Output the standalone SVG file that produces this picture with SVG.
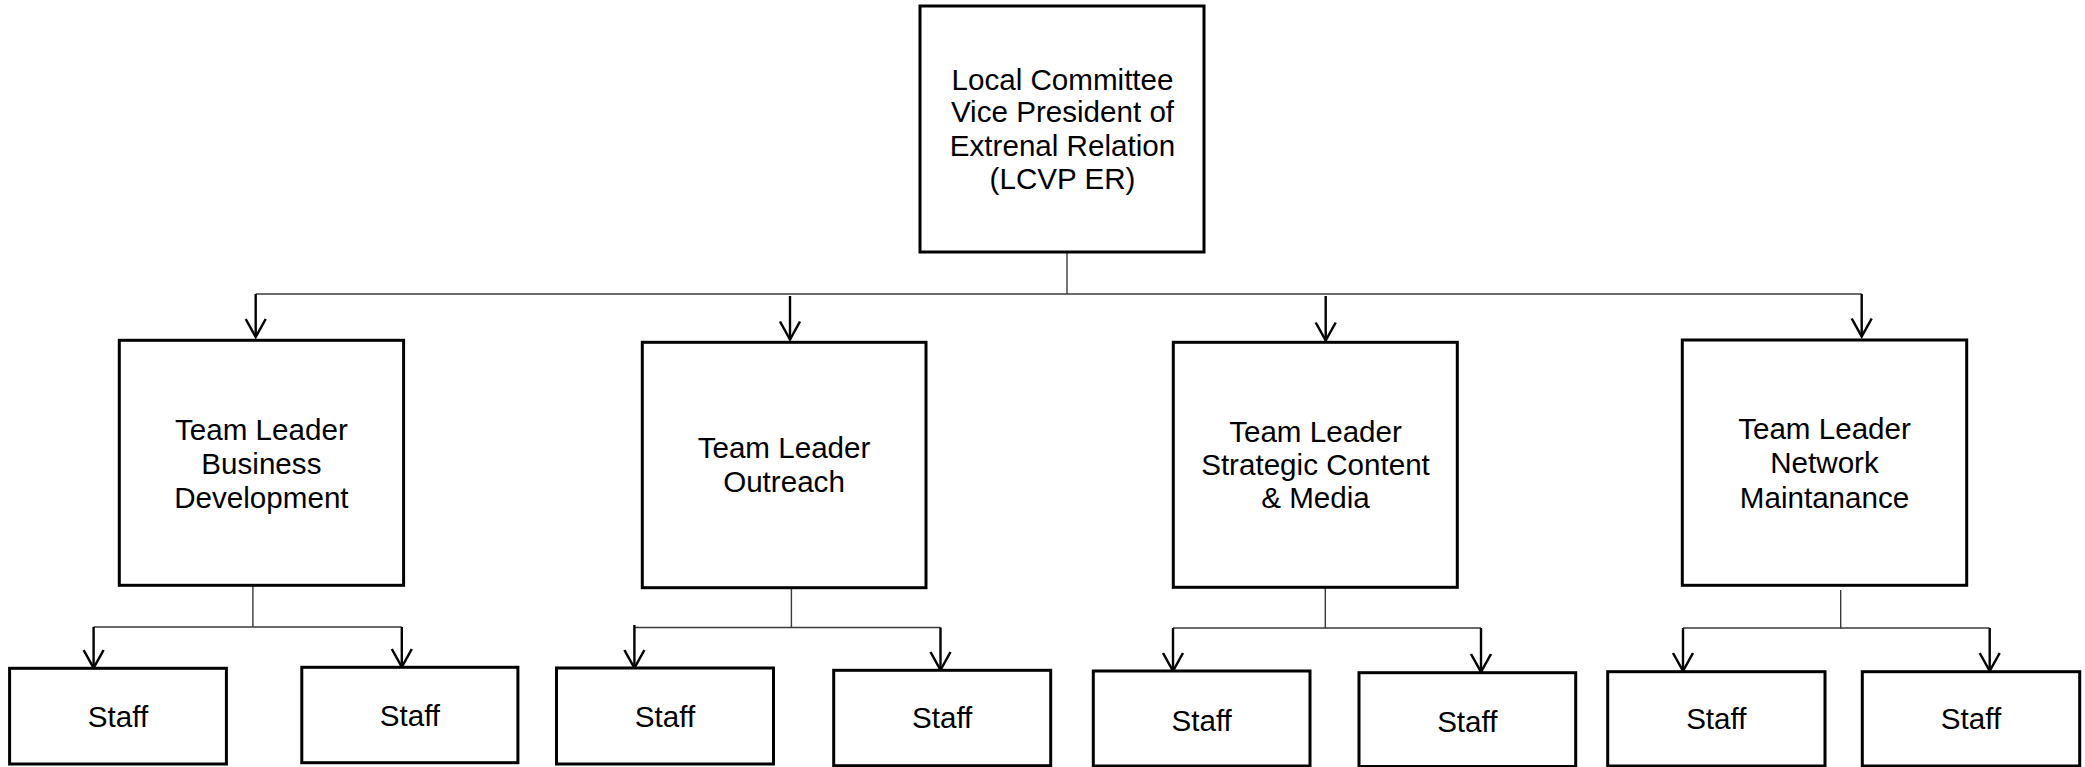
<svg xmlns="http://www.w3.org/2000/svg" width="2085" height="767" viewBox="0 0 2085 767">
<style>
.box{fill:#fff;stroke:#000;stroke-width:3}
.lbl{font-family:"Liberation Sans",Arial,sans-serif;font-size:29.6px;fill:#000;text-anchor:middle}
.ln{stroke:#3a3a3a;stroke-width:1.4;fill:none}
.ar{stroke:#000;stroke-width:2.4;fill:none;marker-end:url(#head)}
</style>
<defs>
<marker id="head" markerUnits="userSpaceOnUse" markerWidth="24" markerHeight="26" viewBox="-20 -12 24 24" refX="0" refY="0" orient="auto" overflow="visible">
<path d="M-18,-10 L0,0 L-18,10" fill="none" stroke="#000" stroke-width="2.5"/>
</marker>
</defs>
<rect width="2085" height="767" fill="#fff"/>
<g id="connectors">
<line class="ln" x1="1067" y1="250" x2="1067" y2="294"/>
<line class="ln" x1="255.7" y1="294" x2="1861.7" y2="294"/>
<line class="ar" x1="255.7" y1="294" x2="255.7" y2="337"/>
<line class="ar" x1="790" y1="296" x2="790" y2="339.5"/>
<line class="ar" x1="1325.7" y1="296" x2="1325.7" y2="340.5"/>
<line class="ar" x1="1861.7" y1="294" x2="1861.7" y2="336.5"/>
<line class="ln" x1="252.9" y1="585" x2="252.9" y2="627"/>
<line class="ln" x1="93.6" y1="627" x2="401.8" y2="627"/>
<line class="ar" x1="93.6" y1="627" x2="93.6" y2="668"/>
<line class="ar" x1="401.8" y1="627" x2="401.8" y2="667"/>
<line class="ln" x1="791.4" y1="588" x2="791.4" y2="628"/>
<line class="ln" x1="634.4" y1="627.5" x2="940.5" y2="627.5"/>
<line class="ar" x1="634.4" y1="625" x2="634.4" y2="668"/>
<line class="ar" x1="940.5" y1="627.5" x2="940.5" y2="670"/>
<line class="ln" x1="1325.3" y1="587" x2="1325.3" y2="628.5"/>
<line class="ln" x1="1173" y1="628" x2="1481" y2="628"/>
<line class="ar" x1="1173" y1="628" x2="1173" y2="671"/>
<line class="ar" x1="1481" y1="628" x2="1481" y2="672"/>
<line class="ln" x1="1840.7" y1="590" x2="1840.7" y2="628.5"/>
<line class="ln" x1="1683" y1="628" x2="1989.7" y2="628"/>
<line class="ar" x1="1683" y1="628" x2="1683" y2="671"/>
<line class="ar" x1="1989.7" y1="628" x2="1989.7" y2="671"/>
</g>
<g id="lcvp">
<rect class="box" x="920" y="6" width="284" height="246"/>
<text class="lbl" x="1062.5" y="89.5">Local Committee</text>
<text class="lbl" x="1062.5" y="122.3">Vice President of</text>
<text class="lbl" x="1062.5" y="155.6">Extrenal Relation</text>
<text class="lbl" x="1062.5" y="188.5">(LCVP ER)</text>
</g>
<g id="tl-bd">
<rect class="box" x="119.3" y="340.3" width="284.3" height="245"/>
<text class="lbl" x="261.4" y="440">Team Leader</text>
<text class="lbl" x="261.4" y="474.3">Business</text>
<text class="lbl" x="261.4" y="508.3">Development</text>
</g>
<g id="tl-outreach">
<rect class="box" x="642.3" y="342.3" width="283.7" height="245.4"/>
<text class="lbl" x="784" y="458.3">Team Leader</text>
<text class="lbl" x="784" y="492.3">Outreach</text>
</g>
<g id="tl-scm">
<rect class="box" x="1173.3" y="342.3" width="284" height="245"/>
<text class="lbl" x="1315.5" y="441.7">Team Leader</text>
<text class="lbl" x="1315.5" y="474.8">Strategic Content</text>
<text class="lbl" x="1315.5" y="508.3">&amp; Media</text>
</g>
<g id="tl-nm">
<rect class="box" x="1682.3" y="340" width="284.4" height="245.3"/>
<text class="lbl" x="1824.5" y="439.3">Team Leader</text>
<text class="lbl" x="1824.5" y="473.3">Network</text>
<text class="lbl" x="1824.5" y="507.7">Maintanance</text>
</g>
<g id="staff1"><rect class="box" x="9.6" y="668.3" width="216.8" height="95.7"/><text class="lbl" x="118" y="726.7">Staff</text></g>
<g id="staff2"><rect class="box" x="301.8" y="667.3" width="216.1" height="95.4"/><text class="lbl" x="409.9" y="726">Staff</text></g>
<g id="staff3"><rect class="box" x="556.5" y="668" width="217" height="96"/><text class="lbl" x="665" y="726.7">Staff</text></g>
<g id="staff4"><rect class="box" x="833.7" y="670.3" width="217" height="95.4"/><text class="lbl" x="942.2" y="728.3">Staff</text></g>
<g id="staff5"><rect class="box" x="1093.3" y="671" width="216.7" height="95"/><text class="lbl" x="1201.7" y="730.7">Staff</text></g>
<g id="staff6"><rect class="box" x="1359" y="672.7" width="216.7" height="93.8"/><text class="lbl" x="1467.3" y="732.3">Staff</text></g>
<g id="staff7"><rect class="box" x="1607.7" y="671.7" width="217.3" height="94.3"/><text class="lbl" x="1716.3" y="729">Staff</text></g>
<g id="staff8"><rect class="box" x="1862.3" y="671.7" width="217.4" height="94.3"/><text class="lbl" x="1971" y="729">Staff</text></g>
</svg>
